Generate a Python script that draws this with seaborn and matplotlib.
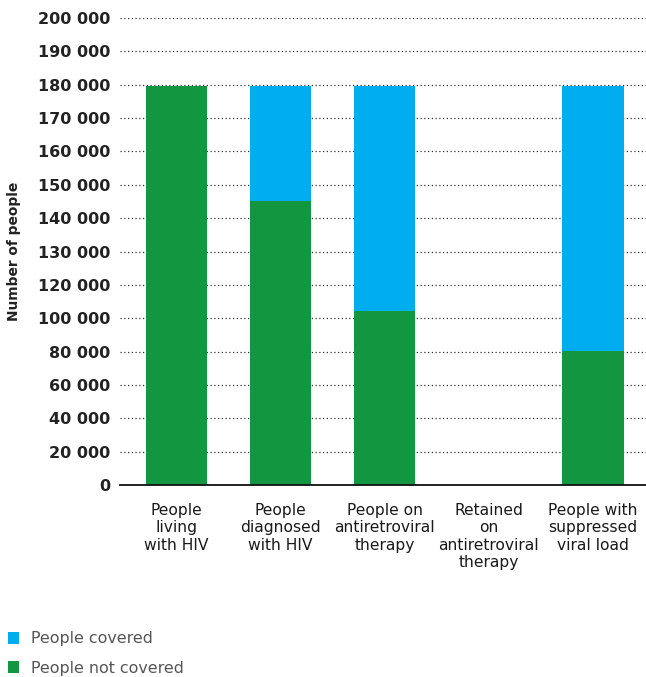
import matplotlib
matplotlib.use("Agg")
import matplotlib.pyplot as plt
import numpy as np
import pandas as pd
import seaborn as sns
from matplotlib.patches import Patch

# ---------------------------------------------------------------------------
# Data
# ---------------------------------------------------------------------------
stages = [
    "People\nliving\nwith HIV",
    "People\ndiagnosed\nwith HIV",
    "People on\nantiretroviral\ntherapy",
    "Retained\non\nantiretroviral\ntherapy",
    "People with\nsuppressed\nviral load",
]
total = [179500, 179500, 179500, np.nan, 179500]
not_covered = [179500, 145000, 104500, np.nan, 80500]

ytick_values = [0, 20000, 40000, 60000, 80000, 100000, 120000, 130000, 140000,
                150000, 160000, 170000, 180000, 190000, 200000]

GREEN = "#12963F"
BLUE = "#00AEEF"

df = pd.DataFrame({"stage": stages, "total": total, "not_covered": not_covered})

# the axis is piecewise: 20 000 steps up to 120 000, then 10 000 steps
knots_v = [0, 120000, 200000]
knots_u = [0, 6, 14]


def fwd(v):
    return np.interp(v, knots_v, knots_u)


def inv(u):
    return np.interp(u, knots_u, knots_v)


sns.set_style("white")
plt.rcParams["font.family"] = ["DejaVu Sans"]

fig = plt.figure(figsize=(6.46, 6.77), dpi=100)
ax = fig.add_axes([120 / 646, 1 - 485 / 677, 526 / 646, 467 / 677])
ax.set_yscale("function", functions=(fwd, inv))

sns.barplot(data=df, x="stage", y="total", order=stages, color=BLUE,
            width=0.59, saturation=1, linewidth=0, ax=ax, zorder=3)
sns.barplot(data=df, x="stage", y="not_covered", order=stages, color=GREEN,
            width=0.59, saturation=1, linewidth=0, ax=ax, zorder=4)

ax.set_ylim(0, 200000)
ax.set_xlim(-0.54, 4.51)
ax.set_yticks(ytick_values)
ax.set_yticklabels([f"{v:,}".replace(",", " ") for v in ytick_values],
                   fontsize=11.5, fontweight="bold", color="#222222")
ax.yaxis.grid(True, linestyle=(0, (1, 2)), color="#333333", linewidth=0.9)
ax.set_axisbelow(True)
ax.tick_params(axis="y", length=0, pad=7)
ax.tick_params(axis="x", length=0, pad=13, labelsize=11.2, labelcolor="#1a1a1a")
for sp in ["left", "right", "top"]:
    ax.spines[sp].set_visible(False)
ax.spines["bottom"].set_color("#111111")
ax.spines["bottom"].set_linewidth(1.3)
ax.spines["bottom"].set_zorder(5)

ax.set_xlabel("")
ax.set_ylabel("Number of people", fontsize=9.9, fontweight="bold", color="#222222")
ax.yaxis.set_label_coords(-0.188, 0.5)

handles = [Patch(facecolor=BLUE, edgecolor="none"),
           Patch(facecolor=GREEN, edgecolor="none")]
fig.legend(handles, ["People covered", "People not covered"],
           loc="upper left", bbox_to_anchor=(-0.003, 1 - 622 / 677),
           frameon=False, fontsize=11.4, labelcolor="#555555",
           handlelength=0.75, handleheight=0.75, handletextpad=0.75,
           labelspacing=0.9, borderpad=0.3, borderaxespad=0.3)

fig.savefig("out.png", dpi=100)
